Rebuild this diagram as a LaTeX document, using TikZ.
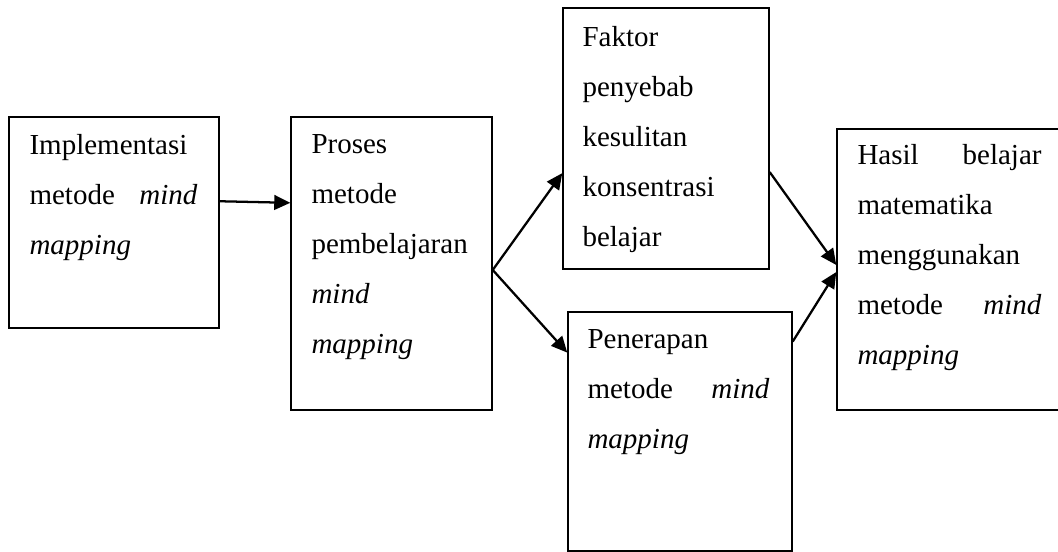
\documentclass[tikz,border=0pt]{standalone}
\usepackage{fontspec}
\setmainfont{Liberation Serif}
\usetikzlibrary{arrows.meta,calc,fit}

\tikzset{
  box/.style={draw, line width=1.1pt, inner sep=0pt},
  txt/.style={anchor=north west, inner sep=0pt, align=left, font=\fontsize{21.75}{37.5}\selectfont},
  link/.style={line width=1.7pt, -{Triangle[length=12pt,width=11pt]}}
}

\begin{document}
\begin{tikzpicture}[x=0.75pt,y=0.75pt,yscale=-1,xscale=1]
\useasboundingbox (0,0) rectangle (1058,552);
\clip (0,0) rectangle (1058,552);

%Shape: Rectangle
\node [box, fit={(9,117) (219,328)}] (impl) {};
%Shape: Rectangle
\node [box, fit={(291,117) (492,410)}] (proses) {};
%Shape: Rectangle
\node [box, fit={(563,8) (769,269)}] (faktor) {};
%Shape: Rectangle
\node [box, fit={(568,312) (792,551)}] (penerapan) {};
%Shape: Rectangle
\node [box, fit={(837,129) (1063,410)}] (hasil) {};

%Straight Lines
\draw [link] ($(impl.north east)!0.4!(impl.south east)$) -- ($(proses.north west)!0.294!(proses.south west)$);
%Straight Lines
\draw [link] ($(proses.north east)!0.522!(proses.south east)$) -- ($(faktor.north west)!0.632!(faktor.south west)$);
%Straight Lines
\draw [link] ($(proses.north east)!0.522!(proses.south east)$) -- ($(penerapan.north west)!0.172!(penerapan.south west)$);
%Straight Lines
\draw [link] ($(faktor.north east)!0.628!(faktor.south east)$) -- ($(hasil.north west)!0.484!(hasil.south west)$);
%Straight Lines
\draw [link] ($(penerapan.north east)!0.126!(penerapan.south east)$) -- ($(hasil.north west)!0.509!(hasil.south west)$);

% Text Node
\node [txt, text width=126pt] (implText) at ($(impl.north west)+(21,18)$) {Implementasi\\ metode\hfill\textit{mind}\\ \textit{mapping}};
% Text Node
\node [txt, text width=119.25pt] (prosesText) at ($(proses.north west)+(21,18)$) {Proses\\ metode\\ pembelajaran\\ \textit{mind}\\ \textit{mapping}};
% Text Node
\node [txt, text width=123pt] (faktorText) at ($(faktor.north west)+(20,19)$) {Faktor\\ penyebab\\ kesulitan\\ konsentrasi\\ belajar};
% Text Node
\node [txt, text width=136.5pt] (penerapanText) at ($(penerapan.north west)+(20,18)$) {Penerapan\\ metode\hfill\textit{mind}\\ \textit{mapping}};
% Text Node
\node [txt, text width=138pt] (hasilText) at ($(hasil.north west)+(21,16)$) {Hasil\hfill belajar\\ matematika\\ menggunakan\\ metode\hfill\textit{mind}\\ \textit{mapping}};

\end{tikzpicture}
\end{document}
